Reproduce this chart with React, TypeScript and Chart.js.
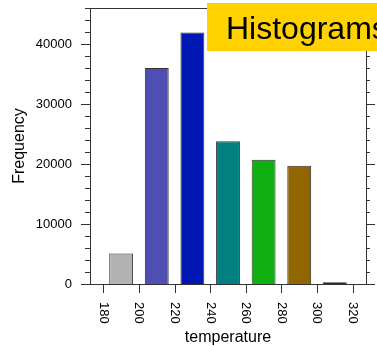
import { useEffect, useRef } from 'react';
import { Chart, registerables } from 'chart.js';

Chart.register(...registerables);

const binCenters = [190, 210, 230, 250, 270, 290, 310];
const frequencies = [5100, 36000, 41900, 23800, 20700, 19700, 300];
const barColors = ['#b3b3b3', '#4f4fb3', '#0017b3', '#008080', '#10b010', '#8f6600', '#5c1a1a'];
const xTickValues = [180, 200, 220, 240, 260, 280, 300, 320];
const yTickValues = [0, 10000, 20000, 30000, 40000];
const yMax = 46000;
const yMajorStep = 10000;
const yMinorStep = 2000;
const titleText = 'Histograms';
const xTitle = 'temperature';
const yTitle = 'Frequency';

const FONT = "'Liberation Sans', Arial, Helvetica, sans-serif";

const framePlugin = {
  id: 'ncarFrame',
  afterDraw(chart: any) {
    const { ctx, chartArea } = chart;
    const { left, right, top, bottom } = chartArea;
    const x = chart.scales.x;
    const y = chart.scales.y;
    ctx.save();
    ctx.strokeStyle = '#333';
    ctx.lineWidth = 1;
    ctx.strokeRect(Math.round(left) + 0.5, Math.round(top) + 0.5, Math.round(right - left), Math.round(bottom - top));
    ctx.beginPath();
    for (let v = 0; v <= yMax; v += yMinorStep) {
      const py = Math.round(y.getPixelForValue(v)) + 0.5;
      const major = v % yMajorStep === 0;
      ctx.moveTo(left - (major ? 9 : 5), py);
      ctx.lineTo(left, py);
      ctx.moveTo(right, py);
      ctx.lineTo(right + (major ? 9 : 4), py);
    }
    for (const v of xTickValues) {
      const px = Math.round(x.getPixelForValue(v)) + 0.5;
      ctx.moveTo(px, bottom);
      ctx.lineTo(px, bottom + 9);
    }
    ctx.stroke();
    ctx.fillStyle = '#000';
    ctx.font = `13px ${FONT}`;
    ctx.textAlign = 'left';
    ctx.textBaseline = 'middle';
    for (const v of xTickValues) {
      const px = x.getPixelForValue(v);
      ctx.save();
      ctx.translate(px, bottom + 18);
      ctx.rotate(Math.PI / 2);
      ctx.fillText(String(v), 0, 0);
      ctx.restore();
    }
    // title box
    ctx.fillStyle = '#ffd200';
    ctx.fillRect(207, 3, 200, 48);
    ctx.fillStyle = '#000';
    ctx.font = `32px ${FONT}`;
    ctx.textBaseline = 'alphabetic';
    ctx.fillText(titleText, 226, 38.5);
    ctx.restore();
  },
};

export default function App() {
  const ref = useRef<HTMLCanvasElement | null>(null);
  useEffect(() => {
    document.body.style.margin = '0';
    const canvas = ref.current;
    if (!canvas) return;
    const chart = new Chart(canvas, {
      type: 'bar',
      data: {
        datasets: [
          {
            data: binCenters.map((c, i) => ({ x: c, y: frequencies[i] })),
            backgroundColor: barColors,
            borderColor: '#333',
            borderWidth: 1,
            barPercentage: 0.67,
            categoryPercentage: 1,
          },
        ],
      },
      options: {
        animation: false,
        responsive: false,
        layout: { autoPadding: false, padding: { top: 8, right: 11, left: 0, bottom: 0 } },
        plugins: { legend: { display: false }, tooltip: { enabled: false } },
        scales: {
          x: {
            type: 'linear',
            min: 172.5,
            max: 327.5,
            offset: false,
            grid: { display: false, drawTicks: false, offset: false },
            border: { display: false },
            ticks: { display: false },
            title: {
              display: true,
              text: xTitle,
              color: '#000',
              font: { family: FONT, size: 16, lineHeight: 1 },
              padding: { top: 0, bottom: 0 },
            },
            afterFit(scale: any) {
              scale.height = 62;
              scale.paddingLeft = 0;
              scale.paddingRight = 0;
            },
          },
          y: {
            type: 'linear',
            min: 0,
            max: yMax,
            grid: { display: false, drawTicks: false },
            border: { display: false },
            afterBuildTicks(scale: any) {
              scale.ticks = yTickValues.map((v) => ({ value: v }));
            },
            ticks: {
              color: '#000',
              padding: 18,
              font: { family: FONT, size: 13 },
              callback: (v: any) => String(v),
            },
            title: {
              display: true,
              text: yTitle,
              color: '#000',
              font: { family: FONT, size: 16, lineHeight: 1 },
              padding: { top: 12, bottom: 0 },
            },
            afterFit(scale: any) {
              scale.width = 90;
              scale.paddingTop = 0;
              scale.paddingBottom = 0;
            },
          },
        },
      },
      plugins: [framePlugin],
    });
    return () => chart.destroy();
  }, []);
  return (
    <div style={{ position: 'absolute', left: 0, top: 0, width: 377, height: 346, background: '#fff' }}>
      <canvas ref={ref} width={377} height={346} style={{ display: 'block' }} />
    </div>
  );
}
